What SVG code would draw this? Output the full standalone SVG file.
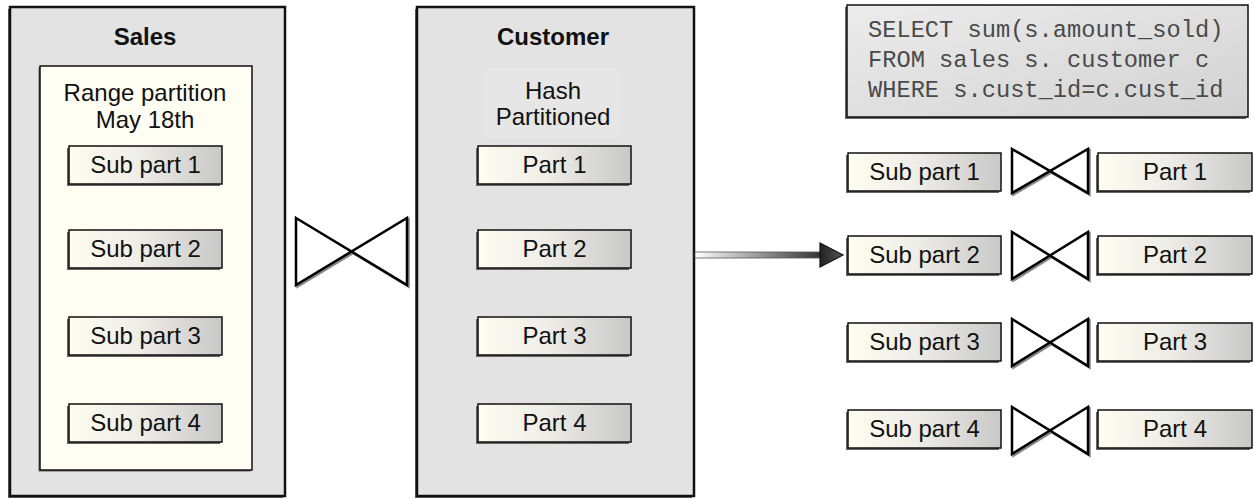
<svg xmlns="http://www.w3.org/2000/svg" width="1254" height="499" viewBox="0 0 1254 499">
<defs>
<linearGradient id="partGrad" x1="0" y1="0" x2="1" y2="0">
<stop offset="0" stop-color="#fffdf0"/>
<stop offset="0.45" stop-color="#eeede8"/>
<stop offset="1" stop-color="#c8c8c8"/>
</linearGradient>
<linearGradient id="sqlGrad" x1="0" y1="0" x2="1" y2="1">
<stop offset="0" stop-color="#ececec"/>
<stop offset="1" stop-color="#d2d2d2"/>
</linearGradient>
<linearGradient id="arrowGrad" x1="0" y1="0" x2="1" y2="0">
<stop offset="0" stop-color="#ffffff"/>
<stop offset="1" stop-color="#333333"/>
</linearGradient>
<linearGradient id="headGrad" x1="0" y1="0" x2="1" y2="0">
<stop offset="0" stop-color="#222222"/>
<stop offset="1" stop-color="#555555"/>
</linearGradient>
</defs>
<style>
.outer{fill:#e3e3e3;stroke:#111;stroke-width:2.5}
.inner{fill:#fefef2;stroke:#111;stroke-width:1.5}
.part{fill:url(#partGrad);stroke:#111;stroke-width:1.5}
.shadow{fill:#666;stroke:none}
.bow{fill:#fff;stroke:#000;stroke-width:2.5;stroke-linejoin:miter}
.bowsh{fill:none;stroke:#888;stroke-width:2.5}
.lbl{font-family:"Liberation Sans",Arial,sans-serif;font-size:24px;fill:#111;text-anchor:middle}
.title{font-family:"Liberation Sans",Arial,sans-serif;font-size:24px;font-weight:bold;fill:#111;text-anchor:middle}
.sql{font-family:"Liberation Mono","Courier New",monospace;font-size:23.7px;fill:#4a4a4a}
</style>
<rect width="1254" height="499" fill="#fff"/>

<g id="sales">
<rect class="shadow" x="8" y="9" width="275" height="489"/>
<rect class="outer" x="10" y="7" width="275" height="489"/>
<text class="title" x="145" y="45">Sales</text>
<rect class="shadow" x="38.5" y="67.5" width="212" height="404"/>
<rect class="inner" x="40" y="66" width="212" height="404"/>
<text class="lbl" x="145" y="101">Range partition</text>
<text class="lbl" x="145" y="128">May 18th</text>
<g id="sales-sub1">
<rect class="shadow" x="67" y="148" width="153" height="38"/>
<rect class="part" x="69" y="146" width="153" height="38"/>
<text class="lbl" x="145.5" y="172.5">Sub part 1</text>
</g>
<g id="sales-sub2">
<rect class="shadow" x="67" y="232" width="153" height="38"/>
<rect class="part" x="69" y="230" width="153" height="38"/>
<text class="lbl" x="145.5" y="256.5">Sub part 2</text>
</g>
<g id="sales-sub3">
<rect class="shadow" x="67" y="319" width="153" height="38"/>
<rect class="part" x="69" y="317" width="153" height="38"/>
<text class="lbl" x="145.5" y="343.5">Sub part 3</text>
</g>
<g id="sales-sub4">
<rect class="shadow" x="67" y="406" width="153" height="38"/>
<rect class="part" x="69" y="404" width="153" height="38"/>
<text class="lbl" x="145.5" y="430.5">Sub part 4</text>
</g>
</g>

<g id="customer">
<rect class="shadow" x="415" y="9" width="277" height="489"/>
<rect class="outer" x="417" y="7" width="277" height="489"/>
<text class="title" x="553" y="45">Customer</text>
<rect x="483" y="68" width="138" height="70" fill="#e6e6e6"/>
<text class="lbl" x="553" y="99">Hash</text>
<text class="lbl" x="553" y="125">Partitioned</text>
<g id="cust-part1">
<rect class="shadow" x="476" y="148" width="153" height="38"/>
<rect class="part" x="478" y="146" width="153" height="38"/>
<text class="lbl" x="554.5" y="172.5">Part 1</text>
</g>
<g id="cust-part2">
<rect class="shadow" x="476" y="232" width="153" height="38"/>
<rect class="part" x="478" y="230" width="153" height="38"/>
<text class="lbl" x="554.5" y="256.5">Part 2</text>
</g>
<g id="cust-part3">
<rect class="shadow" x="476" y="319" width="153" height="38"/>
<rect class="part" x="478" y="317" width="153" height="38"/>
<text class="lbl" x="554.5" y="343.5">Part 3</text>
</g>
<g id="cust-part4">
<rect class="shadow" x="476" y="406" width="153" height="38"/>
<rect class="part" x="478" y="404" width="153" height="38"/>
<text class="lbl" x="554.5" y="430.5">Part 4</text>
</g>
</g>

<g id="sql">
<rect class="shadow" x="845" y="7" width="401" height="112"/>
<rect x="847" y="5" width="401" height="112" fill="url(#sqlGrad)" stroke="#111" stroke-width="1.5"/>
<text class="sql" x="868" y="37">SELECT sum(s.amount_sold)</text>
<text class="sql" x="868" y="67">FROM sales s. customer c</text>
<text class="sql" x="868" y="96.5">WHERE s.cust_id=c.cust_id</text>
</g>

<g id="right-rows">
<g id="r-sub1">
<rect class="shadow" x="846" y="155" width="153" height="38"/>
<rect class="part" x="848" y="153" width="153" height="38"/>
<text class="lbl" x="924.5" y="179.5">Sub part 1</text>
</g>
<g id="r-part1">
<rect class="shadow" x="1096" y="155" width="154" height="38"/>
<rect class="part" x="1098" y="153" width="154" height="38"/>
<text class="lbl" x="1175" y="179.5">Part 1</text>
</g>
<g id="r-sub2">
<rect class="shadow" x="846" y="238" width="153" height="38"/>
<rect class="part" x="848" y="236" width="153" height="38"/>
<text class="lbl" x="924.5" y="262.5">Sub part 2</text>
</g>
<g id="r-part2">
<rect class="shadow" x="1096" y="238" width="154" height="38"/>
<rect class="part" x="1098" y="236" width="154" height="38"/>
<text class="lbl" x="1175" y="262.5">Part 2</text>
</g>
<g id="r-sub3">
<rect class="shadow" x="846" y="325" width="153" height="38"/>
<rect class="part" x="848" y="323" width="153" height="38"/>
<text class="lbl" x="924.5" y="349.5">Sub part 3</text>
</g>
<g id="r-part3">
<rect class="shadow" x="1096" y="325" width="154" height="38"/>
<rect class="part" x="1098" y="323" width="154" height="38"/>
<text class="lbl" x="1175" y="349.5">Part 3</text>
</g>
<g id="r-sub4">
<rect class="shadow" x="846" y="412" width="153" height="38"/>
<rect class="part" x="848" y="410" width="153" height="38"/>
<text class="lbl" x="924.5" y="436.5">Sub part 4</text>
</g>
<g id="r-part4">
<rect class="shadow" x="1096" y="412" width="154" height="38"/>
<rect class="part" x="1098" y="410" width="154" height="38"/>
<text class="lbl" x="1175" y="436.5">Part 4</text>
</g>
</g>

<g id="connectors">
<path class="bowsh" d="M297.5,219.5 L408.5,286.5 L408.5,219.5 L297.5,286.5 Z"/>
<path class="bow" d="M296,218 L407,285 L407,218 L296,285 Z"/>
<path class="bowsh" d="M1013.5,150.5 L1089.5,194.5 L1089.5,150.5 L1013.5,194.5 Z"/>
<path class="bow" d="M1012,149 L1088,193 L1088,149 L1012,193 Z"/>
<path class="bowsh" d="M1013.5,233.5 L1089.5,280.5 L1089.5,233.5 L1013.5,280.5 Z"/>
<path class="bow" d="M1012,232 L1088,279 L1088,232 L1012,279 Z"/>
<path class="bowsh" d="M1013.5,320.5 L1089.5,367.5 L1089.5,320.5 L1013.5,367.5 Z"/>
<path class="bow" d="M1012,319 L1088,366 L1088,319 L1012,366 Z"/>
<path class="bowsh" d="M1013.5,408.5 L1089.5,455.5 L1089.5,408.5 L1013.5,455.5 Z"/>
<path class="bow" d="M1012,407 L1088,454 L1088,407 L1012,454 Z"/>
<rect x="695" y="252" width="126" height="6" fill="url(#arrowGrad)" stroke="#555" stroke-width="0.8"/>
<polygon points="820,243 843,255 820,267" fill="url(#headGrad)" stroke="#111" stroke-width="1.2" stroke-linejoin="miter"/>
</g>
</svg>
